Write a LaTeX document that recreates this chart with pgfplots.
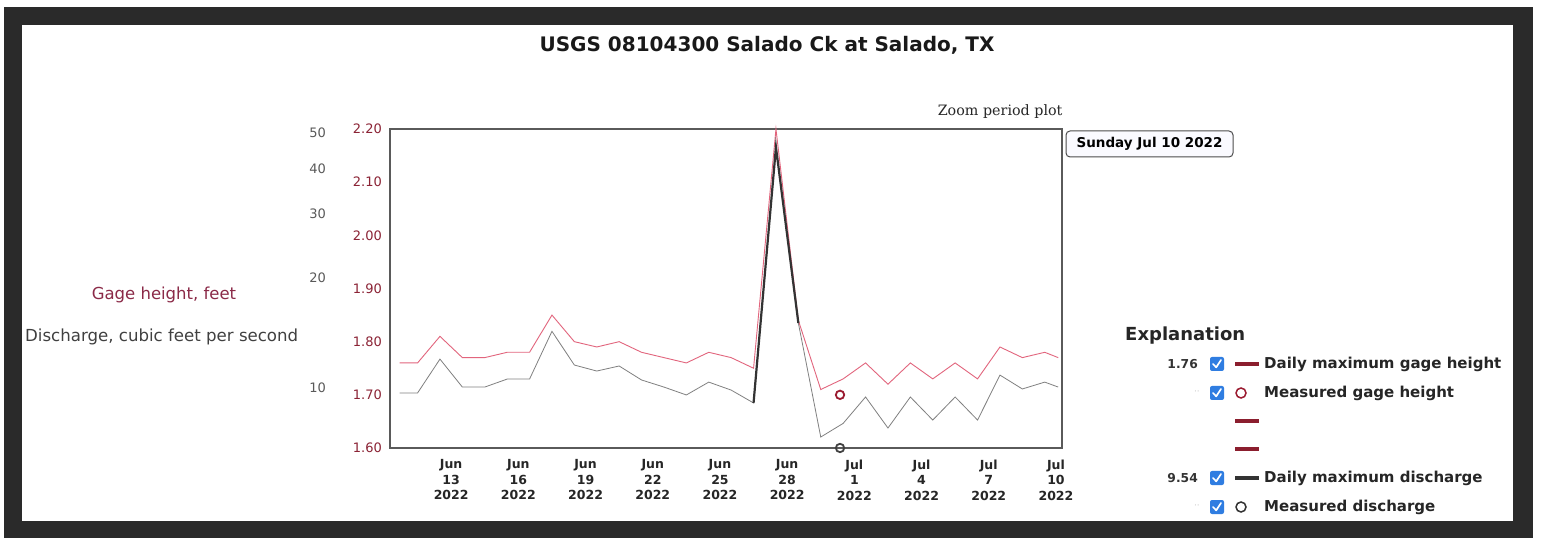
\documentclass[border=0pt]{standalone}
\usepackage{fontspec}
\setmainfont{DejaVu Sans}
\newfontfamily\serifz{DejaVu Serif}
\usepackage{pgfplots}
\usepackage{pgfplotstable}
\pgfplotsset{compat=1.18}
\definecolor{frame}{HTML}{2A2A2A}
\definecolor{gageline}{HTML}{E2657D}
\definecolor{gagetick}{HTML}{8B2335}
\definecolor{gagelab}{HTML}{8B2A48}
\definecolor{measred}{HTML}{9B1B30}
\definecolor{legred}{HTML}{8B1E2E}
\definecolor{chkblue}{HTML}{2F7DE1}
\definecolor{axgray}{HTML}{5A5A5A}

\pgfplotstableread{
d g
0.7 1.76
1.5 1.76
2.5 1.81
3.5 1.77
4.5 1.77
5.5 1.78
6.5 1.78
7.5 1.85
8.5 1.80
9.5 1.79
10.5 1.80
11.5 1.78
12.5 1.77
13.5 1.76
14.5 1.78
15.5 1.77
16.5 1.75
17.5 2.20
18.5 1.84
19.5 1.71
20.5 1.73
21.5 1.76
22.5 1.72
23.5 1.76
24.5 1.73
25.5 1.76
26.5 1.73
27.5 1.79
28.5 1.77
29.5 1.78
30.1 1.77
}\gage

\pgfplotstableread{
d q
0.7 9.69
1.5 9.69
2.5 12.0
3.5 10.06
4.5 10.06
5.5 10.58
6.5 10.58
7.5 14.3
8.5 11.56
9.5 11.13
10.5 11.49
11.5 10.52
12.5 10.06
13.5 9.57
14.5 10.38
15.5 9.87
16.5 9.10
17.5 45.7
18.5 15.07
19.5 7.34
20.5 8.0
21.5 9.45
22.5 7.77
23.5 9.45
24.5 8.17
25.5 9.45
26.5 8.17
27.5 10.85
28.5 9.94
29.5 10.38
30.1 10.06
}\disch

\pgfplotstableread{
d q
16.5 9.10
17.5 45.7
18.5 15.07
}\spike

\newcommand{\chk}[1]{%
  \fill[chkblue,rounded corners=2pt] (1210,#1-7) rectangle (1224,#1+7);
  \draw[white,line width=1.7pt,line cap=round,line join=round] (1213,#1) -- (1216.2,#1-3.3) -- (1221,#1+4);
}

\begin{document}
\begin{tikzpicture}[x=1pt,y=1pt]
\fill[white] (0,0) rectangle (1541,538);
\fill[frame] (4,0) rectangle (1533,531);
\fill[white] (22,17) rectangle (1513,513);

% gage height axis
\begin{axis}[
  at={(390pt,90pt)}, anchor=south west,
  scale only axis, width=672pt, height=319pt,
  xmin=0.27, xmax=30.27, ymin=1.6, ymax=2.2,
  axis line style={axgray, line width=1.4pt},
  major tick length=0pt,
  xtick={3,6,9,12,15,18,21,24,27,30},
  xticklabels={{Jun\\13\\2022},{Jun\\16\\2022},{Jun\\19\\2022},{Jun\\22\\2022},{Jun\\25\\2022},{Jun\\28\\2022},{Jul\\1\\2022},{Jul\\4\\2022},{Jul\\7\\2022},{Jul\\10\\2022}},
  xticklabel style={align=center, font=\bfseries\fontsize{12.5}{15.5}\selectfont, text=black!85, yshift=-8pt},
  ytick={1.6,1.7,1.8,1.9,2.0,2.1,2.2},
  yticklabels={1.60,1.70,1.80,1.90,2.00,2.10,2.20},
  yticklabel style={font=\fontsize{13}{14}\selectfont, text=gagetick, inner sep=0pt, xshift=-8pt},
  clip=false,
]
\addplot[gageline, line width=0.9pt, mark=none] table[x=d, y=g] {\gage};
\end{axis}

% discharge axis (log)
\begin{axis}[
  at={(390pt,90pt)}, anchor=south west,
  scale only axis, width=672pt, height=319pt,
  xmin=0.27, xmax=30.27, ymode=log, ymin=6.85, ymax=51.25,
  axis line style={draw=none},
  major tick length=0pt, minor tick length=0pt,
  xtick=\empty,
  ytick={10,20,30,40,50},
  yticklabels={10,20,30,40,50},
  yticklabel style={font=\fontsize{13}{14}\selectfont, text=black!65, inner sep=0pt, xshift=-64pt},
  clip=false,
]
\addplot[black!50, line width=0.8pt, mark=none] table[x=d, y=q] {\disch};
\addplot[black!80, line width=2.2pt, mark=none] table[x=d, y=q] {\spike};
\addplot[only marks, mark=o, mark size=4.2pt, mark options={draw=black!75, line width=1.8pt, fill=white}] coordinates {(20.36,6.85)};
\end{axis}

% measured gage (drawn on gage scale)
\begin{axis}[
  at={(390pt,90pt)}, anchor=south west,
  scale only axis, width=672pt, height=319pt,
  xmin=0.27, xmax=30.27, ymin=1.6, ymax=2.2,
  axis lines=none, clip=false,
]
\addplot[only marks, mark=o, mark size=4.2pt, mark options={draw=measred, line width=1.8pt, fill=white}] coordinates {(20.36,1.70)};
\end{axis}

% title and annotations
\node[font=\bfseries\fontsize{20}{23}\selectfont, text=black!90] at (767,493) {USGS 08104300 Salado Ck at Salado, TX};
\node[anchor=east, font=\serifz\fontsize{14.3}{16}\selectfont, text=black!85] at (1066,426) {Zoom period plot};
\node[draw=black!70, line width=1pt, fill=blue!2, rounded corners=4pt, minimum width=167pt, minimum height=26pt, inner sep=0pt, font=\bfseries\fontsize{13.5}{15}\selectfont] at (1149.5,394) {Sunday Jul 10 2022};

\node[font=\fontsize{16.5}{18}\selectfont, text=gagelab] at (164,243) {Gage height, feet};
\node[anchor=west, font=\fontsize{16.6}{18}\selectfont, text=black!75, inner sep=0pt] at (25,201) {Discharge, cubic feet per second};

% legend
\node[anchor=west, inner sep=0pt, font=\bfseries\fontsize{18}{20}\selectfont, text=black!85] at (1125,202) {Explanation};
\node[anchor=east, inner sep=0pt, font=\bfseries\fontsize{12.3}{14}\selectfont, text=black!80] at (1198,174) {1.76};
\node[anchor=east, inner sep=0pt, font=\bfseries\fontsize{12.3}{14}\selectfont, text=black!80] at (1198,60) {9.54};
\node[anchor=east, inner sep=0pt, font=\fontsize{9}{10}\selectfont, text=black!20] at (1200,145) {··};
\node[anchor=east, inner sep=0pt, font=\fontsize{9}{10}\selectfont, text=black!20] at (1200,31) {··};
\chk{174}
\chk{145}
\chk{60}
\chk{31}
\draw[legred, line width=4pt] (1235,174) -- (1259,174);
\draw[legred, line width=4pt] (1235,117) -- (1259,117);
\draw[legred, line width=4pt] (1235,89) -- (1259,89);
\draw[black!80, line width=4pt] (1235,60) -- (1259,60);
\draw[measred, line width=1.5pt] (1241,145) circle (5pt);
\draw[black!80, line width=1.5pt] (1241,31) circle (5pt);
\begin{scope}[every node/.style={anchor=west, inner sep=0pt, font=\bfseries\fontsize{15}{17}\selectfont, text=black!85}]
\node at (1264,174) {Daily maximum gage height};
\node at (1264,145) {Measured gage height};
\node at (1264,60) {Daily maximum discharge};
\node at (1264,31) {Measured discharge};
\end{scope}
\end{tikzpicture}
\end{document}
